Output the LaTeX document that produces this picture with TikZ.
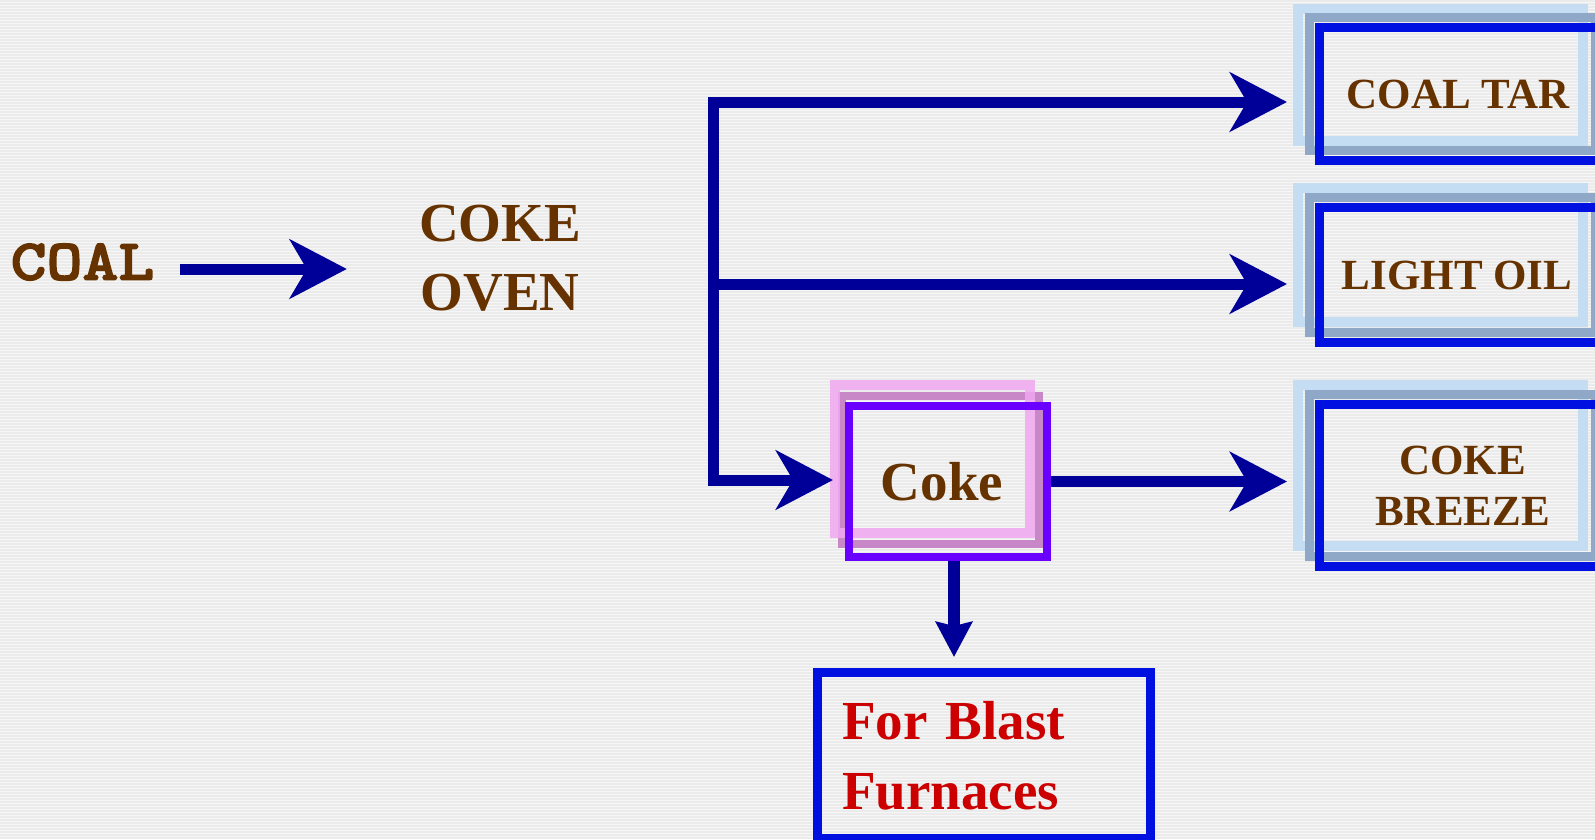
\documentclass[tikz,border=0pt]{standalone}
\usepackage{fontspec}
\setmainfont{Liberation Serif}
\newfontfamily\coalfont{lmmonolt10-bold}[Extension=.otf,FakeBold=2.5,FakeStretch=1.18]
\usetikzlibrary{arrows.meta,calc}
\definecolor{brownt}{HTML}{663300}
\definecolor{redt}{HTML}{CC0000}
\definecolor{navy}{HTML}{000099}
\definecolor{boxblue}{HTML}{0010E0}
\definecolor{greyblue}{HTML}{8FA8C8}
\definecolor{lightblue}{HTML}{C5DDF3}
\definecolor{purplebox}{HTML}{6A00FF}
\definecolor{pinkshade}{HTML}{F0A8F0}
\definecolor{mauveshade}{HTML}{C888C8}
\definecolor{bgcol}{HTML}{F6F6F6}
\definecolor{stripecol}{HTML}{EBEBEB}
\begin{document}
\begin{tikzpicture}[x=1pt,y=-1pt,
  arr/.style={draw=navy, line width=11pt, line join=miter,
    -{Stealth[length=57pt,width=59pt,inset=17pt]}},
  arrsmall/.style={draw=navy, line width=12pt,
    -{Stealth[length=35pt,width=36pt,inset=4pt]}},
  prodbox/.style={draw=boxblue, line width=9pt, inner sep=0pt,
    minimum width=286pt, text=brownt, align=center,
    font=\fontsize{43}{51}\selectfont\bfseries},
  lightframe/.style={draw=lightblue, line width=10pt},
  greyframe/.style={draw=greyblue, line width=9pt},
  stripe/.style={draw=stripecol, line width=1.3pt}]
\useasboundingbox (0,0) rectangle (1595,839);
\fill[bgcol] (0,0) rectangle (1595,839);
\foreach \y in {1,4,...,838} \draw[stripe] (0,\y) -- (1595,\y);

% shadow frames of product boxes
\draw[lightframe] (1298,9) rectangle (1583,141);
\draw[greyframe] (1309.5,17.5) rectangle (1595.5,150.5);
\draw[lightframe] (1298,188) rectangle (1583,322);
\draw[greyframe] (1309.5,197.5) rectangle (1595.5,332.5);
\draw[lightframe] (1298,385) rectangle (1583,546);
\draw[greyframe] (1309.5,394.5) rectangle (1595.5,556.5);

% shadow frames of coke box
\draw[draw=mauveshade, line width=8pt] (842,396) rectangle (1039,544);
\draw[draw=pinkshade, line width=10pt, opacity=0.85] (835,385) rectangle (1030,533);

% nodes
\node[text=brownt, inner sep=0pt, font=\fontsize{58}{58}\selectfont\coalfont] (coal) at (82.5,262) {COAL};
\node[text=brownt, inner sep=0pt, align=center, font=\fontsize{55}{69}\selectfont\bfseries] (oven) at (500,258.5) {COKE\\OVEN};
\node[prodbox, minimum height=133pt] (tar) at (1462.5,94) {COAL TAR\hspace*{9pt}};
\node[prodbox, minimum height=135pt] (oil) at (1462.5,275) {LIGHT OIL\hspace*{11pt}};
\node[prodbox, minimum height=162pt] (breeze) at (1462.5,485.5) {COKE\\BREEZE};
\node[draw=purplebox, line width=8pt, inner sep=0pt, minimum width=198pt, minimum height=151pt,
  text=brownt, font=\fontsize{55}{66}\selectfont\bfseries] (coke) at (948,481.5) {Coke\hspace*{12pt}};
\node[draw=boxblue, line width=9pt, inner sep=0pt, minimum width=333pt, minimum height=166pt,
  text width=284pt, align=left, text=redt, font=\fontsize{55}{70}\selectfont\bfseries] (blast) at (984,755.5) {For Blast\\Furnaces};

% connectors
\coordinate (c1) at (180,269);
\draw[arr, shorten >=72pt] (c1) -- (c1 -| oven.west);

\coordinate (jt) at (713,102);
\coordinate (jm) at (713,284);
\coordinate (jb) at (713,480);
\draw[arr, shorten >=28pt] (jb) -- (jt) -- (jt -| tar.west);
\draw[arr, shorten >=28pt] (jm) -- (jm -| oil.west);
\draw[arr, shorten >=12pt] (jt) -- (jb) -- (jb -| coke.west);
\draw[arr, shorten >=28pt] (coke.east) -- (coke.east -| breeze.west);
\coordinate (d1) at ($(coke.south)+(6,0)$);
\draw[arrsmall, shorten >=11pt] (d1) -- (d1 |- blast.north);
\end{tikzpicture}
\end{document}
